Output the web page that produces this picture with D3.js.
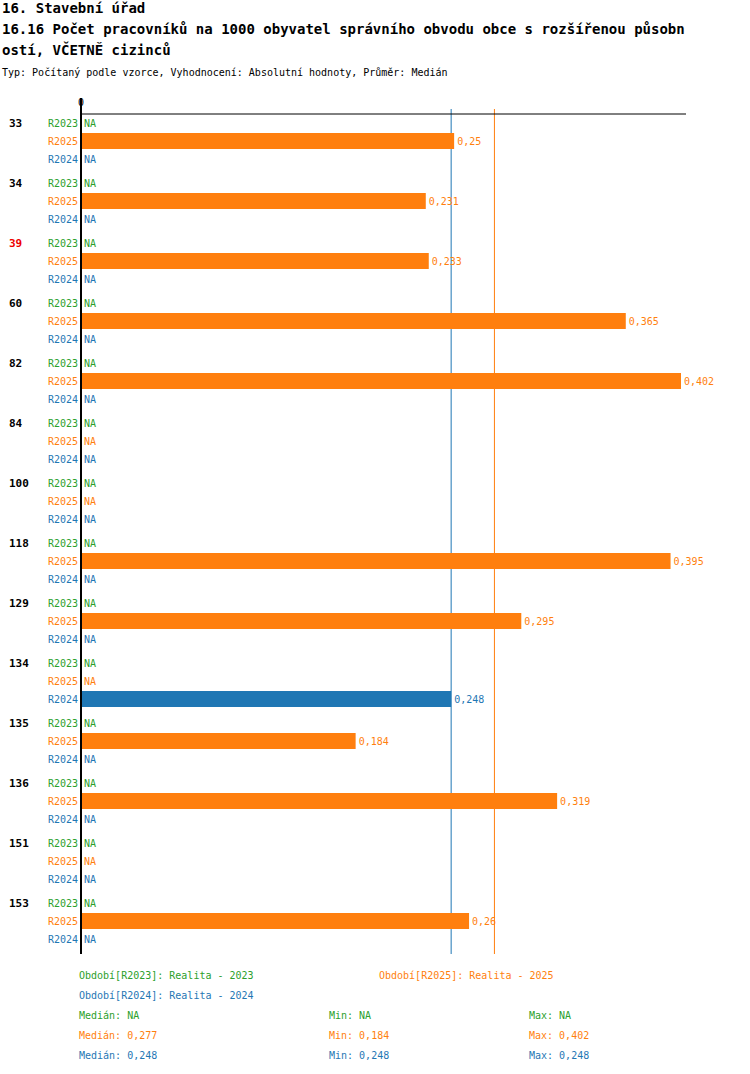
<!DOCTYPE html>
<html><head><meta charset="utf-8">
<script src="https://cdn.jsdelivr.net/npm/d3@7"></script>
<style>
body{margin:0;background:#fff}
text{font-family:"DejaVu Sans Mono",monospace}
</style></head><body>
<svg id="chart" width="750" height="1074"></svg>
<script>
// data
const categories = ['33','34','39','60','82','84','100','118','129','134','135','136','151','153'];
const highlighted = ['39'];
const series = ['R2023','R2025','R2024'];
const colors = {R2023:'#2ca02c', R2025:'#ff7f0e', R2024:'#1f77b4'};
const r2023 = [null,null,null,null,null,null,null,null,null,null,null,null,null,null];
const r2025 = [0.25,0.231,0.233,0.365,0.402,null,null,0.395,0.295,null,0.184,0.319,null,0.26];
const r2024 = [null,null,null,null,null,null,null,null,null,0.248,null,null,null,null];
const medians = {R2025:0.277, R2024:0.248};
const values = {R2023:r2023, R2025:r2025, R2024:r2024};

const svg = d3.select('#chart');
const x = d3.scaleLinear().domain([0, 0.402]).range([81, 681]);
const yGroup = d3.scaleBand().domain(categories).range([114, 954]).paddingInner(0);
const ySeries = d3.scaleBand().domain(series).range([0, 54]);
const fmt = v => String(v).replace('.', ',');

// titles
svg.append('text').attr('x',2).attr('y',13).attr('font-size',14).attr('font-weight','bold').text('16. Stavební úřad');
svg.append('text').attr('x',2).attr('y',34).attr('font-size',14).attr('font-weight','bold').text('16.16 Počet pracovníků na 1000 obyvatel správního obvodu obce s rozšířenou působn');
svg.append('text').attr('x',2).attr('y',55).attr('font-size',14).attr('font-weight','bold').text('ostí, VČETNĚ cizinců');
svg.append('text').attr('x',2).attr('y',76).attr('font-size',10).text('Typ: Počítaný podle vzorce, Vyhodnocení: Absolutní hodnoty, Průměr: Medián');

// median lines
Object.entries(medians).forEach(([s,m]) => {
  svg.append('line').attr('x1',x(m)).attr('x2',x(m)).attr('y1',109).attr('y2',954)
    .attr('stroke',colors[s]).attr('stroke-width',1);
});

// groups
categories.forEach((c,i) => {
  const gy = yGroup(c);
  svg.append('text').attr('x',9).attr('y',gy+13).attr('font-size',11).attr('font-weight','bold')
    .attr('fill', highlighted.includes(c) ? '#e00' : '#000').text(c);
  series.forEach(s => {
    const cy = gy + ySeries(s) + 9;
    const v = values[s][i];
    svg.append('text').attr('x',78).attr('y',cy+4).attr('text-anchor','end').attr('font-size',10)
      .attr('fill',colors[s]).text(s);
    if (v == null) {
      svg.append('text').attr('x',84).attr('y',cy+4).attr('font-size',10).attr('fill',colors[s]).text('NA');
    } else {
      svg.append('rect').attr('x',x(0)).attr('y',cy-8).attr('width',x(v)-x(0)).attr('height',16).attr('fill',colors[s]);
      svg.append('text').attr('x',x(v)+3).attr('y',cy+4).attr('font-size',10).attr('fill',colors[s]).text(fmt(v));
    }
  });
});

// axes
svg.append('line').attr('x1',81).attr('x2',686).attr('y1',114).attr('y2',114).attr('stroke','#000');
svg.append('line').attr('x1',81).attr('x2',81).attr('y1',98).attr('y2',954).attr('stroke','#000').attr('stroke-width',2);
svg.append('text').attr('x',81).attr('y',106).attr('text-anchor','middle').attr('font-size',10).text('0');

// legend
const leg = [
  [79,979,'R2023','Období[R2023]: Realita - 2023'],
  [379,979,'R2025','Období[R2025]: Realita - 2025'],
  [79,999,'R2024','Období[R2024]: Realita - 2024']
];
leg.forEach(([lx,ly,s,t]) => svg.append('text').attr('x',lx).attr('y',ly).attr('font-size',10).attr('fill',colors[s]).text(t));
const stats = [
  ['R2023','NA','NA','NA'],
  ['R2025','0,277','0,184','0,402'],
  ['R2024','0,248','0,248','0,248']
];
stats.forEach(([s,md,mn,mx],i) => {
  const ly = 1019 + i*20;
  svg.append('text').attr('x',79).attr('y',ly).attr('font-size',10).attr('fill',colors[s]).text('Medián: '+md);
  svg.append('text').attr('x',329).attr('y',ly).attr('font-size',10).attr('fill',colors[s]).text('Min: '+mn);
  svg.append('text').attr('x',529).attr('y',ly).attr('font-size',10).attr('fill',colors[s]).text('Max: '+mx);
});
</script></body></html>
